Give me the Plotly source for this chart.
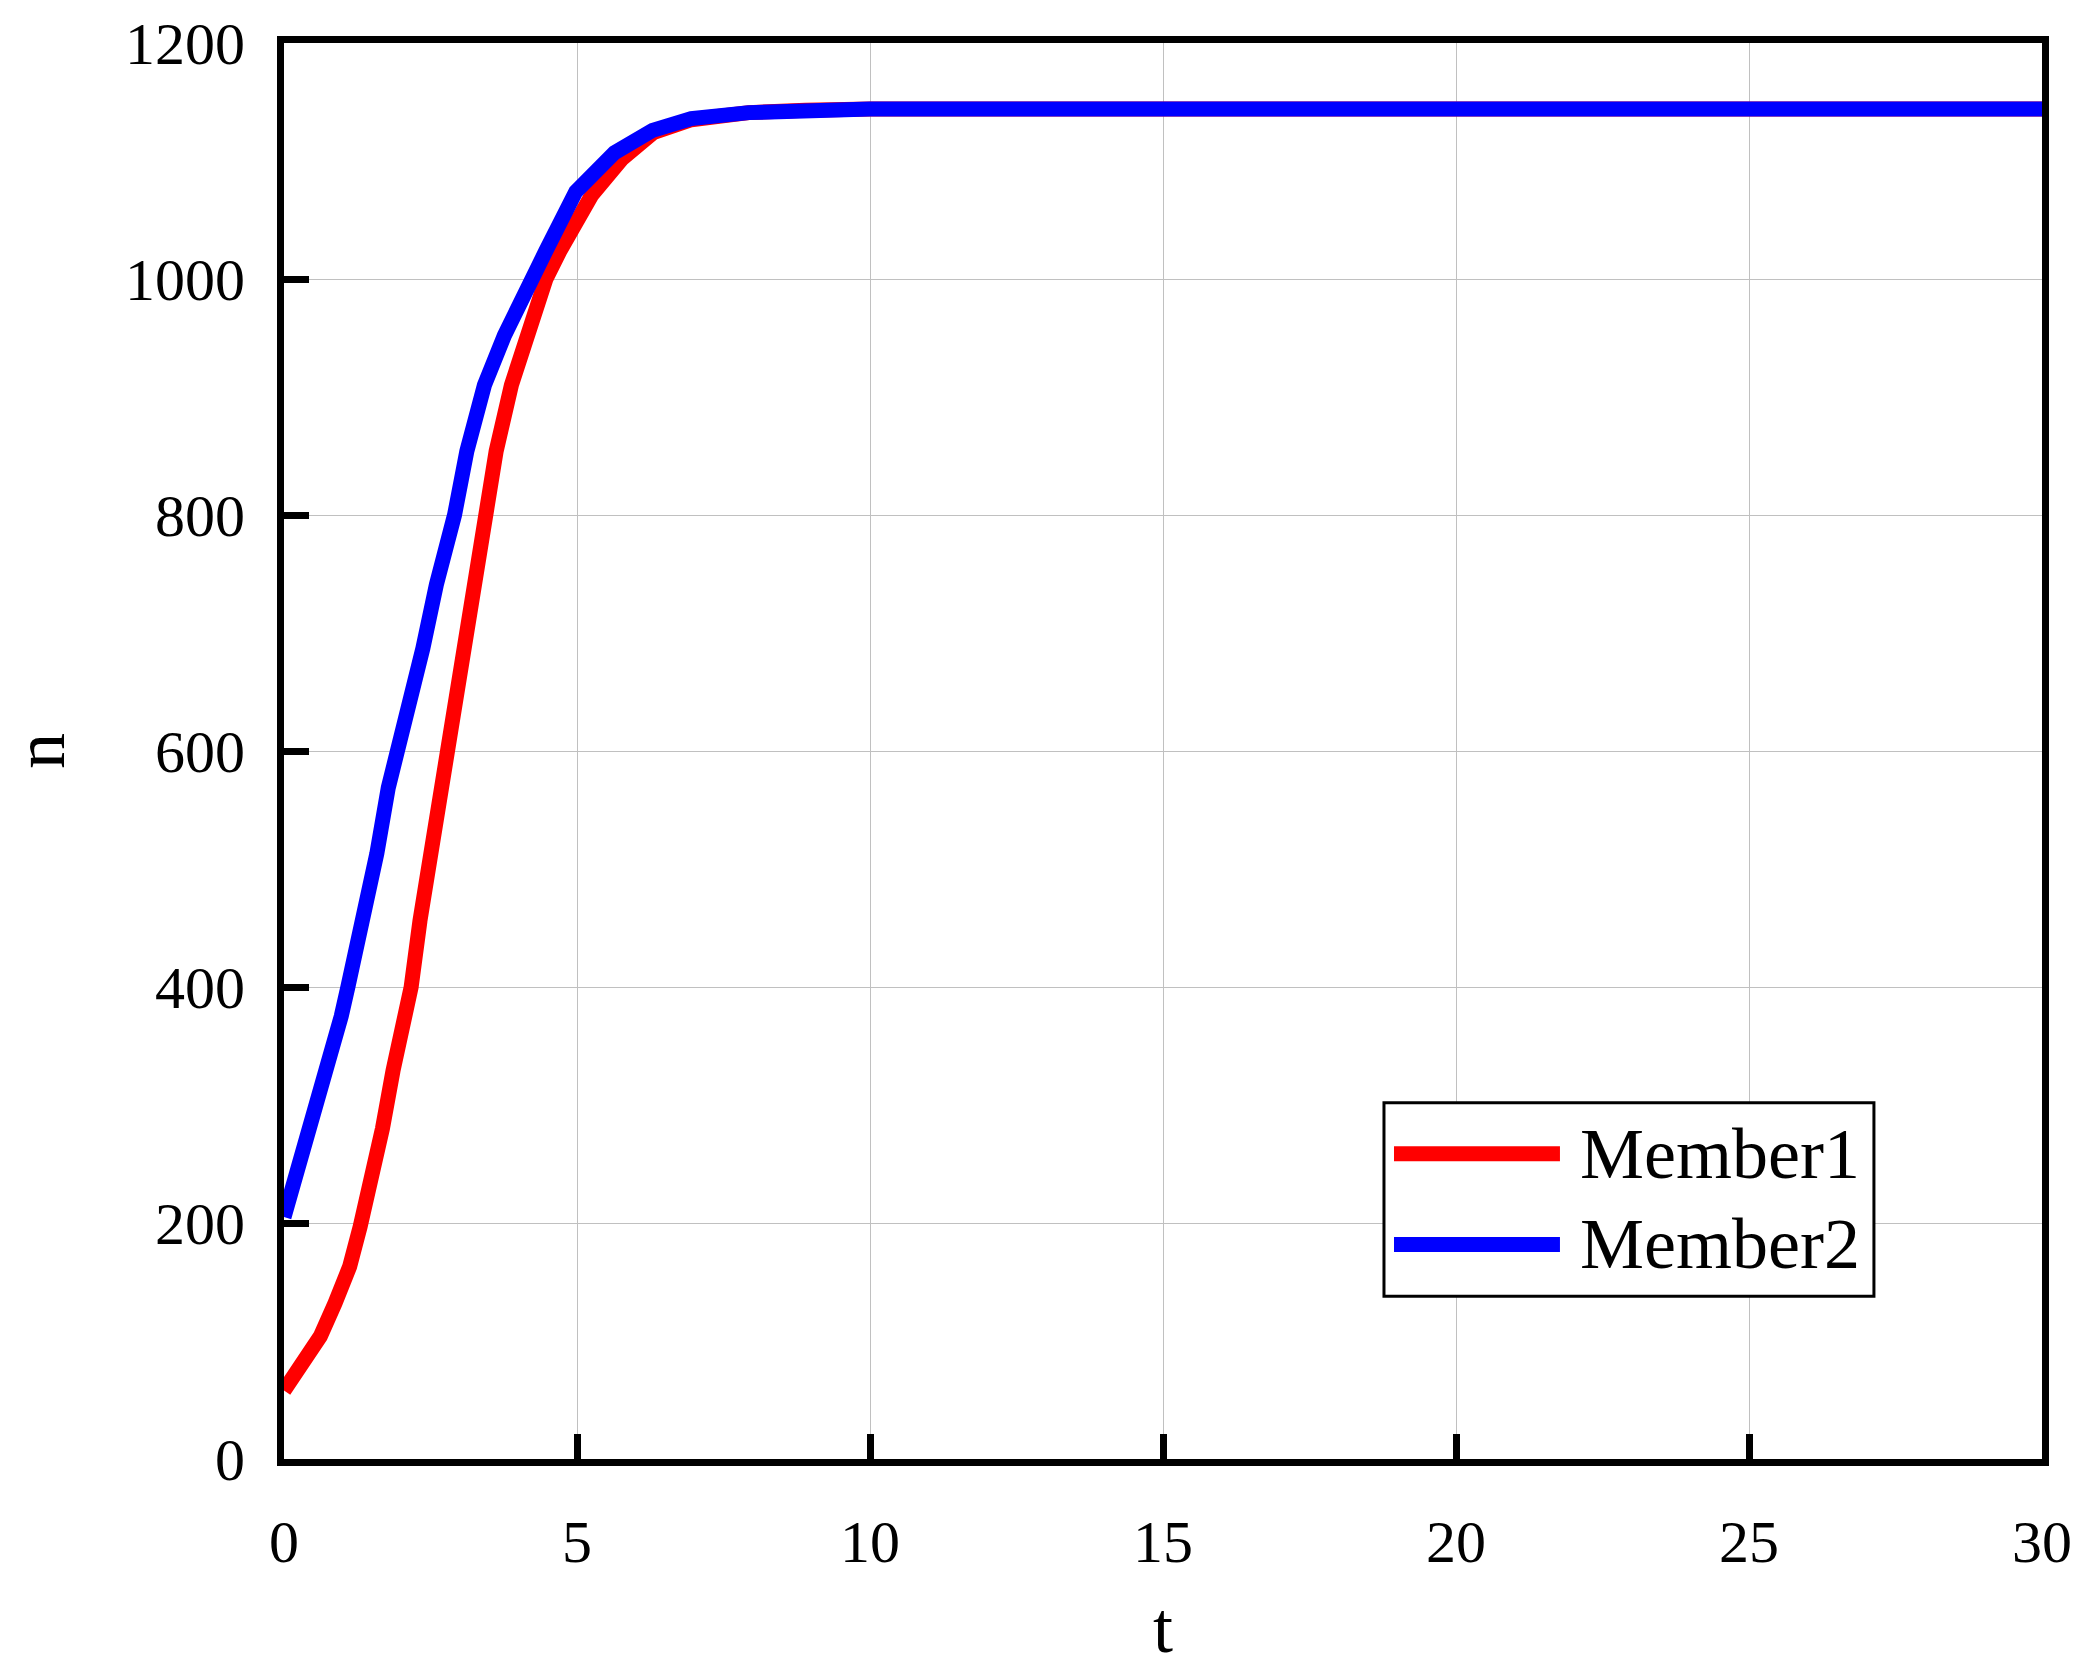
import plotly.graph_objects as go

# Member1 (red)
t_member1 = [0, 0.37, 0.62, 0.87, 1.12, 1.30, 1.49, 1.68, 1.86, 2.085, 2.17, 2.32, 2.51,
             2.80, 3.11, 3.26, 3.46, 3.62, 3.88, 4.13, 4.47, 4.70, 5.25, 5.77, 6.3, 6.95,
             7.93, 8.9, 10, 15, 20, 25, 30]
n_member1 = [58, 84, 104, 132, 163, 197, 237, 280, 329, 375, 400, 456, 513,
             600, 687, 741, 800, 854, 910, 952, 1000, 1023, 1071, 1102, 1124, 1135,
             1141, 1143, 1144, 1144, 1144, 1144, 1144]

# Member2 (blue)
t_member2 = [0, 0.25, 0.50, 0.75, 0.976, 1.09, 1.357, 1.584, 1.78, 1.94, 2.17, 2.37, 2.60,
             2.91, 3.12, 3.42, 3.76, 4.19, 4.46, 4.98, 5.64, 6.29, 6.95, 7.93, 8.9, 10,
             15, 20, 25, 30]
n_member2 = [205, 246, 289, 332, 375, 400, 456, 513, 569, 600, 653, 687, 741,
             800, 854, 910, 952, 1000, 1023, 1074, 1107, 1126, 1136, 1141, 1143, 1144,
             1144, 1144, 1144, 1144]

x_ticks = [0, 5, 10, 15, 20, 25, 30]
y_ticks = [0, 200, 400, 600, 800, 1000, 1200]

FONT = "Liberation Serif"

fig = go.Figure()
fig.add_trace(go.Scatter(x=t_member1, y=n_member1, mode="lines", name="Member1",
                         line=dict(color="#ff0000", width=15), showlegend=False))
fig.add_trace(go.Scatter(x=t_member2, y=n_member2, mode="lines", name="Member2",
                         line=dict(color="#0000ff", width=15), showlegend=False))

axis_style = dict(showline=True, linecolor="black", linewidth=7, mirror=True,
                  ticks="inside", ticklen=25, tickwidth=7, tickcolor="black",
                  showgrid=True, gridcolor="#c0c0c0", gridwidth=1, zeroline=False,
                  automargin=False,
                  tickfont=dict(family=FONT, size=60, color="black"))

fig.update_xaxes(range=[0, 30], tickvals=x_ticks, ticklabelstandoff=24,
                 title=dict(text="t", font=dict(family=FONT, size=72, color="black"),
                            standoff=40),
                 **axis_style)
fig.update_yaxes(range=[0, 1200], tickvals=y_ticks, ticklabelstandoff=20,
                 title=dict(text="n", font=dict(family=FONT, size=72, color="black"),
                            standoff=70),
                 **axis_style)

# legend box drawn by hand so the sample lines can be as long as in the original
fig.add_shape(type="rect", xref="paper", yref="paper", x0=0.6257, x1=0.9044,
              y0=0.1149, y1=0.2516,
              line=dict(color="black", width=3), fillcolor="white", layer="above")
for name, color, y in [("Member1", "#ff0000", 0.2156), ("Member2", "#0000ff", 0.1515)]:
    fig.add_shape(type="line", xref="paper", yref="paper", x0=0.6314, x1=0.7258, y0=y, y1=y,
                  line=dict(color=color, width=15), layer="above")
    fig.add_annotation(xref="paper", yref="paper", x=0.7361, y=y, text=name,
                       showarrow=False, xanchor="left", yanchor="middle",
                       font=dict(family=FONT, size=72, color="black"))

fig.update_layout(width=2082, height=1668, plot_bgcolor="white", paper_bgcolor="white",
                  margin=dict(l=284, r=40, t=43, b=209), showlegend=False)

# the page body has an 8px default margin, drop it so the figure sits at the corner
fig.write_html("out.html", config={"displayModeBar": False},
               post_script="document.body.style.margin='0';")
